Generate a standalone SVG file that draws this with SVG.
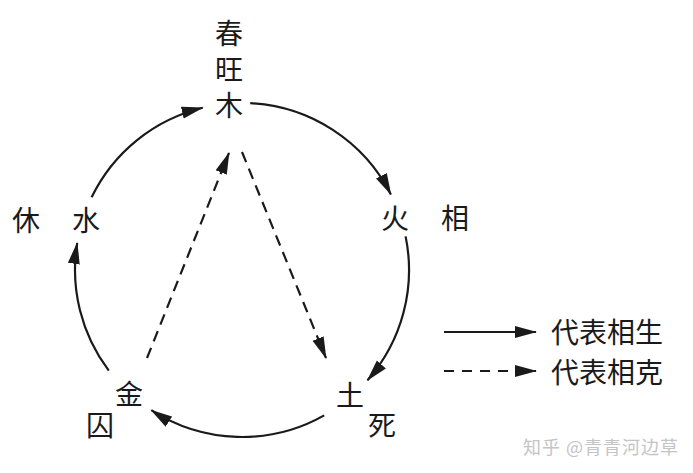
<svg xmlns="http://www.w3.org/2000/svg" width="693" height="473" viewBox="0 0 693 473">
<style>
.t{font-family:"Noto Sans CJK SC","Noto Sans CJK JP",sans-serif;font-size:28px;fill:#1a1a1a;text-anchor:middle}
.v{font-family:"Noto Sans CJK SC","Noto Sans CJK JP",sans-serif;font-size:28px;fill:#1a1a1a;writing-mode:vertical-rl;letter-spacing:8px}
.lg{font-family:"Noto Sans CJK SC","Noto Sans CJK JP",sans-serif;font-size:28px;fill:#1a1a1a}
.wm{font-family:"Noto Sans CJK SC","Noto Sans CJK JP",sans-serif;font-size:18px;fill:#c4c4c4;text-anchor:end;letter-spacing:1px}
.s{fill:none;stroke:#1a1a1a;stroke-width:2.2;marker-end:url(#ah)}
.d{fill:none;stroke:#1a1a1a;stroke-width:2.2;stroke-dasharray:11 7;marker-end:url(#ah)}
</style>
<defs>
<marker id="ah" markerUnits="userSpaceOnUse" markerWidth="24" markerHeight="14" refX="21" refY="6" orient="auto" viewBox="0 0 24 12">
<path d="M0,0 L22,6 L0,12 Z" fill="#1a1a1a"/>
</marker>
</defs>
<rect width="693" height="473" fill="#ffffff"/>
<g id="connectors">
<path class="s" d="M91.6,197.3 A167,167 0 0 1 202.7,107.7"/>
<path class="s" d="M250.2,103.2 A167,167 0 0 1 390.9,194.4"/>
<path class="s" d="M405.6,236.4 A167,167 0 0 1 367.5,380.2"/>
<path class="s" d="M324.2,415.4 A167,167 0 0 1 151.3,410.2"/>
<path class="s" d="M108.8,370.7 A167,167 0 0 1 77.2,243.0"/>
<path class="d" d="M147,358 L229,153"/>
<path class="d" d="M242,152 L326,358"/>
</g>
<g id="node-wood">
<text class="v" x="229" y="19">春旺木</text>
</g>
<g id="node-fire">
<text class="t" x="395" y="229">火</text>
<text class="t" x="455" y="229">相</text>
</g>
<g id="node-earth">
<text class="t" x="350" y="406">土</text>
<text class="t" x="382" y="436">死</text>
</g>
<g id="node-metal">
<text class="t" x="129" y="405">金</text>
<text class="t" x="100" y="436">囚</text>
</g>
<g id="node-water">
<text class="t" x="86" y="231">水</text>
<text class="t" x="26" y="231">休</text>
</g>
<g id="legend">
<path class="s" d="M444,332 L536,332"/>
<path class="s" d="M444,371 L536,371" stroke-dasharray="10 8"/>
<text class="lg" x="551" y="343">代表相生</text>
<text class="lg" x="551" y="383">代表相克</text>
</g>
<text class="wm" x="679" y="454">知乎 @青青河边草</text>
</svg>
